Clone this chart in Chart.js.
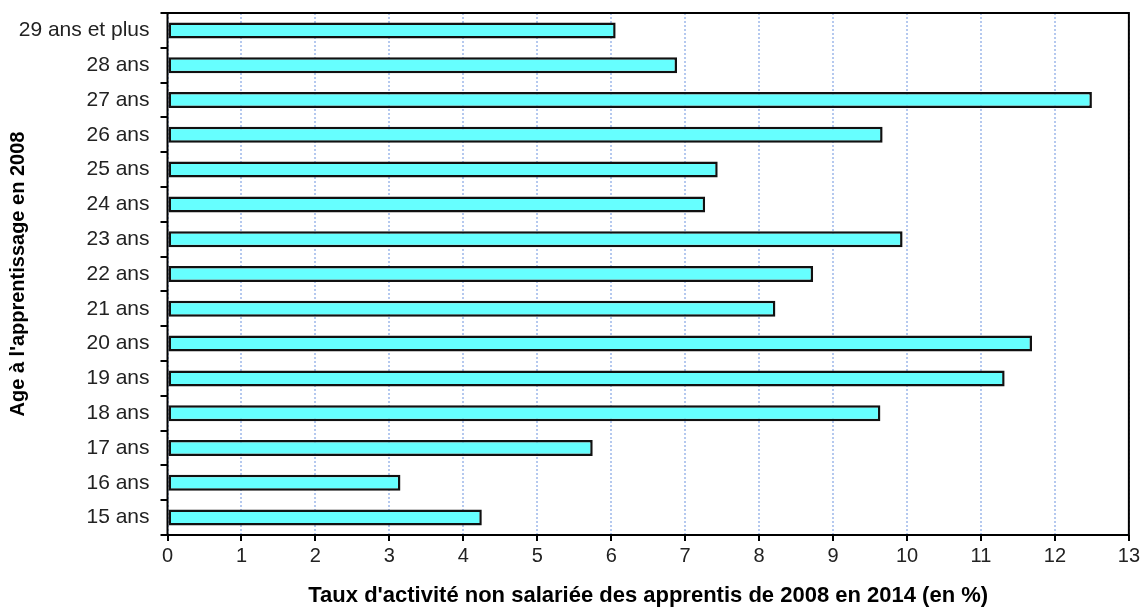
<!DOCTYPE html>
<html>
<head>
<meta charset="utf-8">
<script src="https://cdn.jsdelivr.net/npm/chart.js@4/dist/chart.umd.min.js"></script>
<style>
  body { margin: 0; background: #fff; }
  #wrap { width: 1143px; height: 609px; }
</style>
</head>
<body>
<div id="wrap"><canvas id="chart" width="1143" height="609"></canvas></div>
<script>
const ageLabels = ['15 ans', '16 ans', '17 ans', '18 ans', '19 ans', '20 ans', '21 ans', '22 ans',
  '23 ans', '24 ans', '25 ans', '26 ans', '27 ans', '28 ans', '29 ans et plus'];
const tauxValues = [4.25, 3.15, 5.75, 9.64, 11.32, 11.69, 8.22, 8.73, 9.94, 7.27, 7.44, 9.67, 12.50, 6.89, 6.06];
const xMin = 0;
const xMax = 13;
const xTitle = "Taux d'activité non salariée des apprentis de 2008 en 2014 (en %)";
const yTitle = "Age à l'apprentissage en 2008";

// black frame around the plot area
const frame = {
  id: 'frame',
  afterDraw(chart) {
    const { ctx, chartArea: a } = chart;
    ctx.save();
    ctx.strokeStyle = '#000';
    ctx.lineWidth = 2;
    ctx.strokeRect(a.left, a.top, a.right - a.left, a.bottom - a.top);
    ctx.restore();
  }
};

new Chart(document.getElementById('chart'), {
  type: 'bar',
  data: {
    labels: ageLabels,
    datasets: [{
      data: tauxValues,
      backgroundColor: '#66ffff',
      borderColor: '#111',
      borderWidth: 2.5,
      borderSkipped: false,
      barPercentage: 0.46,
      categoryPercentage: 1
    }]
  },
  options: {
    indexAxis: 'y',
    responsive: false,
    animation: false,
    layout: { padding: { top: 13, right: 13.5, bottom: 0, left: 0 } },
    plugins: { legend: { display: false }, tooltip: { enabled: false } },
    scales: {
      x: {
        min: xMin,
        max: xMax,
        ticks: { stepSize: 1, padding: 3, color: '#222', font: { family: 'Liberation Sans', size: 20 } },
        grid: {
          color: 'rgba(150,178,232,0.7)',
          lineWidth: 2,
          tickColor: '#000',
          tickWidth: 2,
          tickLength: 6
        },
        border: { display: false, dash: [2, 2] },
        title: {
          display: true,
          text: xTitle,
          color: '#000',
          padding: { top: 4, bottom: 0 },
          font: { family: 'Liberation Sans', size: 22, weight: 'bold' }
        },
        afterFit(scale) { scale.height = 74; }
      },
      y: {
        reverse: true,
        offset: true,
        ticks: { padding: 11, color: '#222', font: { family: 'Liberation Sans', size: 21 } },
        grid: {
          offset: true,
          drawOnChartArea: false,
          color: '#000',
          lineWidth: 2,
          tickLength: 7
        },
        border: { display: false },
        title: {
          display: true,
          text: yTitle,
          color: '#000',
          padding: { top: 6, bottom: 4 },
          font: { family: 'Liberation Sans', size: 20, weight: 'bold' }
        },
        afterFit(scale) {
          scale.width = 167.5;
          scale.paddingTop = 0;
          scale.paddingBottom = 0;
        }
      }
    }
  },
  plugins: [frame]
});
</script>
</body>
</html>
